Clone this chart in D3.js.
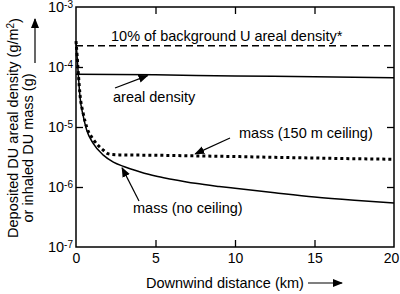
<!DOCTYPE html>
<html>
<head>
<meta charset="utf-8">
<script src="https://cdn.jsdelivr.net/npm/d3@7"></script>
<style>
  body { margin: 0; background: #fff; }
  text { font-family: "Liberation Sans", Arial, sans-serif; fill: #000; }
</style>
</head>
<body>
<div id="chart"></div>
<script>
// values (km, g or g/m2)
const noCeilX = [0, 0.07, 0.14, 0.25, 0.46, 0.67, 1.09, 1.72, 2.35, 3, 4, 5, 6, 7.5, 9, 10, 12.5, 15, 17.5, 20];
const noCeilY = [2.7e-4, 1.5e-4, 7.9e-5, 3.2e-5, 1.5e-5, 8.9e-6, 5.3e-6, 3.4e-6, 2.6e-6, 2.2e-6, 1.8e-6, 1.52e-6, 1.35e-6, 1.15e-6, 1.02e-6, 9.5e-7, 8.0e-7, 6.8e-7, 6.0e-7, 5.4e-7];
const ceilX = [0, 0.07, 0.14, 0.25, 0.46, 0.67, 1.09, 1.4, 1.72, 2.0, 2.3, 2.7, 3.5, 5, 7.5, 10, 12.5, 15, 17.5, 20];
const ceilY = [2.7e-4, 1.55e-4, 8.3e-5, 3.5e-5, 1.65e-5, 1.0e-5, 6.2e-6, 4.9e-6, 4.1e-6, 3.6e-6, 3.47e-6, 3.43e-6, 3.41e-6, 3.38e-6, 3.3e-6, 3.22e-6, 3.12e-6, 3.04e-6, 2.96e-6, 2.9e-6];
const arealX = [0, 5, 10, 15, 20];
const arealY = [7.6e-5, 7.4e-5, 7.1e-5, 6.9e-5, 6.6e-5];
const backgroundLevel = 2.25e-4;
const xTicks = [0, 5, 10, 15, 20];
const yExps = [-3, -4, -5, -6, -7];

const W = 400, H = 294;
const margin = { top: 7, right: 6, bottom: 47, left: 76 };

const svg = d3.select("#chart").append("svg")
  .attr("width", W).attr("height", H);

const x = d3.scaleLinear().domain([0, 20]).range([margin.left, W - margin.right]);
const y = d3.scaleLog().domain([1e-7, 1e-3]).range([H - margin.bottom, margin.top]);

// frame
svg.append("rect")
  .attr("x", x(0)).attr("y", y(1e-3))
  .attr("width", x(20) - x(0)).attr("height", y(1e-7) - y(1e-3))
  .attr("fill", "none").attr("stroke", "#000").attr("stroke-width", 1.5);

const yVals = yExps.map(e => Math.pow(10, e));

// inward ticks on all four sides
function styleAxis(g) {
  g.select(".domain").remove();
  g.selectAll(".tick line").attr("stroke", "#000").attr("stroke-width", 1.3);
}
svg.append("g").attr("transform", `translate(0,${y(1e-7)})`)
  .call(d3.axisBottom(x).tickValues(xTicks).tickSizeInner(-7).tickSizeOuter(0).tickPadding(6))
  .call(styleAxis)
  .call(g => g.selectAll(".tick text").attr("font-size", 14).attr("font-family", "Liberation Sans, Arial"))
  .call(g => g.selectAll(".tick").filter(d => d === 20).select("text").attr("dx", -3))
  .call(g => g.selectAll(".tick").filter(d => d === 0 || d === 20).select("line").remove());
svg.append("g").attr("transform", `translate(0,${y(1e-3)})`)
  .call(d3.axisTop(x).tickValues([5, 10, 15]).tickSizeInner(-7).tickSizeOuter(0).tickFormat(""))
  .call(styleAxis);
const yAx = svg.append("g").attr("transform", `translate(${x(0)},0)`)
  .call(d3.axisLeft(y).tickValues(yVals).tickSizeInner(-7).tickSizeOuter(0).tickPadding(4).tickFormat(""))
  .call(styleAxis);
yAx.selectAll(".tick").filter(d => d === 1e-3 || d === 1e-7).select("line").remove();
yAx.selectAll(".tick").append("text")
  .attr("x", -3).attr("dy", "0.32em").attr("text-anchor", "end").attr("font-size", 14.5)
  .each(function (d) {
    const t = d3.select(this);
    t.append("tspan").text("10");
    t.append("tspan").attr("dy", "-0.45em").attr("font-size", 10).text(Math.round(Math.log10(d)));
  });
svg.append("g").attr("transform", `translate(${x(20)},0)`)
  .call(d3.axisRight(y).tickValues(yVals.slice(1, 4)).tickSizeInner(-7).tickSizeOuter(0).tickFormat(""))
  .call(styleAxis);

// curves
const line = (xs, ys) => d3.line()
  .x((d, i) => x(xs[i])).y((d, i) => y(ys[i]))
  .curve(d3.curveMonotoneX)(xs);

svg.append("line")
  .attr("x1", x(0)).attr("x2", x(20))
  .attr("y1", y(backgroundLevel)).attr("y2", y(backgroundLevel))
  .attr("stroke", "#000").attr("stroke-width", 1.5).attr("stroke-dasharray", "7,4");

svg.append("path").attr("d", line(arealX, arealY))
  .attr("fill", "none").attr("stroke", "#000").attr("stroke-width", 1.5);
svg.append("path").attr("d", line(noCeilX, noCeilY))
  .attr("fill", "none").attr("stroke", "#000").attr("stroke-width", 1.5);
svg.append("path").attr("d", line(ceilX, ceilY))
  .attr("fill", "none").attr("stroke", "#000").attr("stroke-width", 3).attr("stroke-dasharray", "3,3");

// arrow heads
const defs = svg.append("defs");
defs.append("marker").attr("id", "head")
  .attr("viewBox", "0 0 10 10").attr("refX", 9).attr("refY", 5)
  .attr("markerWidth", 10).attr("markerHeight", 10).attr("markerUnits", "userSpaceOnUse")
  .attr("orient", "auto")
  .append("path").attr("d", "M0,1 L10,5 L0,9 Z").attr("fill", "#000");

function arrow(x1, y1, x2, y2) {
  svg.append("line").attr("x1", x1).attr("y1", y1).attr("x2", x2).attr("y2", y2)
    .attr("stroke", "#000").attr("stroke-width", 1.2).attr("marker-end", "url(#head)");
}

// annotations
const fs = 14.5;
svg.append("text").attr("x", 111).attr("y", 41).attr("font-size", fs)
  .text("10% of background U areal density*");
svg.append("text").attr("x", 113).attr("y", 102).attr("font-size", fs).text("areal density");
arrow(115, 88, x(4.5), y(7.45e-5) + 1);
svg.append("text").attr("x", 239).attr("y", 138).attr("font-size", fs).text("mass (150 m ceiling)");
arrow(230, 138, x(7.5), y(3.3e-6) - 2);
svg.append("text").attr("x", 133).attr("y", 213).attr("font-size", fs).text("mass (no ceiling)");
arrow(139, 201, x(2.9), y(2.25e-6) + 2);

// axis titles
svg.append("text").attr("x", 146).attr("y", 288).attr("font-size", fs).text("Downwind distance (km)");
arrow(308, 283, 342, 283);

const yl = svg.append("text").attr("transform", "translate(18,128) rotate(-90)")
  .attr("text-anchor", "middle").attr("font-size", fs);
yl.append("tspan").text("Deposited DU areal density (g/m");
yl.append("tspan").attr("dy", "-0.45em").attr("font-size", 10).text("2");
yl.append("tspan").attr("dy", "0.45em").text(")");
svg.append("text").attr("transform", "translate(33,148) rotate(-90)")
  .attr("text-anchor", "middle").attr("font-size", fs).text("or inhaled DU mass (g)");
arrow(35, 63, 35, 19);
</script>
</body>
</html>
